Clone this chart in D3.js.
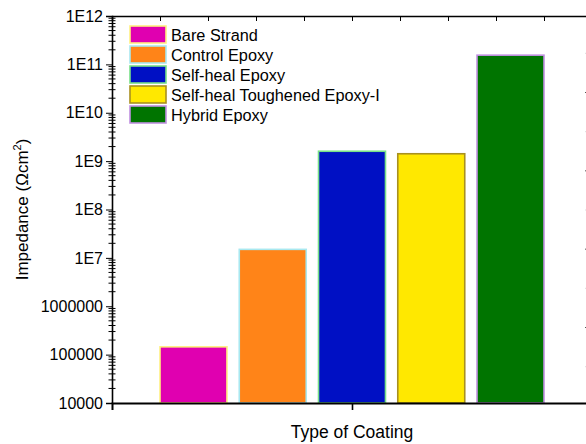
<!DOCTYPE html>
<html>
<head>
<meta charset="utf-8">
<script src="https://cdn.jsdelivr.net/npm/d3@7"></script>
<style>
body{margin:0;background:#fff;overflow:hidden;}
text{font-family:"Liberation Sans",Arial,sans-serif;fill:#000;}
</style>
</head>
<body>
<script>
// bar data
const coatings=["Bare Strand","Control Epoxy","Self-heal Epoxy","Self-heal Toughened Epoxy-I","Hybrid Epoxy"];
const impedance=[1.45e5,1.5e7,1.6e9,1.42e9,1.55e11];
const fills=["#e000b0","#ff8418","#0010c4","#ffe800","#007400"];
const strokes=["#fff080","#a8e8f0","#78e088","#a89020","#c090e0"];
const yTicks=[1e4,1e5,1e6,1e7,1e8,1e9,1e10,1e11,1e12];
const yLabels=["10000","100000","1000000","1E7","1E8","1E9","1E10","1E11","1E12"];

const W=586,H=444;
const pLeft=112,pRight=592,pTop=16,pBottom=403;

const svg=d3.select('body').append('svg')
  .attr('width',W).attr('height',H);

const y=d3.scaleLog().domain([1e4,1e12]).range([pBottom,pTop]);
// bars sit in a band centered on the single x tick
const xc=d3.scaleLinear().domain([0,10]).range([pLeft,pRight]);
const xb=d3.scaleBand().domain(coatings).range([xc(1),xc(9)]).paddingInner(0.155).paddingOuter(0);

svg.selectAll('rect.bar')
  .data(coatings).enter().append('rect')
  .attr('class','bar')
  .attr('x',d=>xb(d))
  .attr('y',(d,i)=>y(impedance[i]))
  .attr('width',xb.bandwidth())
  .attr('height',(d,i)=>pBottom-y(impedance[i]))
  .attr('fill',(d,i)=>fills[i])
  .attr('stroke',(d,i)=>strokes[i])
  .attr('stroke-width',1.6);

// left axis, major ticks
const yAxis=d3.axisLeft(y).tickValues(yTicks).tickFormat((d,i)=>yLabels[i]).tickSize(6).tickPadding(3);
const ga=svg.append('g').attr('transform',`translate(${pLeft},0)`).call(yAxis);
ga.select('.domain').attr('stroke-width',1.6);
ga.selectAll('text').style('font-size','16px').style('font-family','"Liberation Sans",Arial,sans-serif');

// minor log ticks
let minors=[];
for(let e=4;e<12;e++){for(let m=2;m<10;m++){minors.push(m*Math.pow(10,e));}}
svg.append('g').selectAll('line').data(minors).enter().append('line')
  .attr('x1',pLeft-3.5).attr('x2',pLeft+3.5)
  .attr('y1',d=>y(d)).attr('y2',d=>y(d))
  .attr('stroke','#000').attr('stroke-width',1);

// top axis
const gt=svg.append('g').attr('transform',`translate(0,${pTop})`)
  .call(d3.axisBottom(xc).tickValues(d3.range(1,10)).tickSize(5).tickFormat(''));
gt.select('.domain').attr('stroke-width',1.4);

// bottom axis with single category tick
const gb=svg.append('g').attr('transform',`translate(0,${pBottom})`)
  .call(d3.axisBottom(xc).tickValues([5]).tickSize(7).tickFormat(''));
gb.select('.domain').attr('stroke-width',2);
gb.selectAll('.tick line').attr('stroke-width',1.6);

// right axis (mostly outside window)
const yr=d3.scaleLinear().domain([0.06,9.94]).range([pBottom,pTop]);
const gr=svg.append('g').attr('transform',`translate(${pRight},0)`)
  .call(d3.axisLeft(yr).tickValues([1,2,3,4,5,6,7,8,9]).tickSize(7).tickFormat(''));
gr.selectAll('.tick line').attr('stroke',(d)=>d%2==0?'#555':'#ddd');

// axis titles
svg.append('text').attr('x',xc(5)).attr('y',438)
  .attr('text-anchor','middle').style('font-size','17.5px').text('Type of Coating');
svg.append('text').attr('transform',`translate(28,${(pTop+pBottom)/2}) rotate(-90)`)
  .attr('text-anchor','middle').style('font-size','17px')
  .html('Impedance (Ωcm<tspan dy="-7" font-size="11px">2</tspan><tspan dy="7">)</tspan>');

// legend
const leg=svg.append('g').attr('transform','translate(130,26)');
leg.selectAll('rect').data(coatings).enter().append('rect')
  .attr('x',0).attr('y',(d,i)=>i*20)
  .attr('width',36).attr('height',17)
  .attr('fill',(d,i)=>fills[i]).attr('stroke',(d,i)=>strokes[i]).attr('stroke-width',1.6);
leg.selectAll('text').data(coatings).enter().append('text')
  .attr('x',41).attr('y',(d,i)=>i*20+14.5)
  .style('font-size','16.3px').text(d=>d);
</script>
</body>
</html>
